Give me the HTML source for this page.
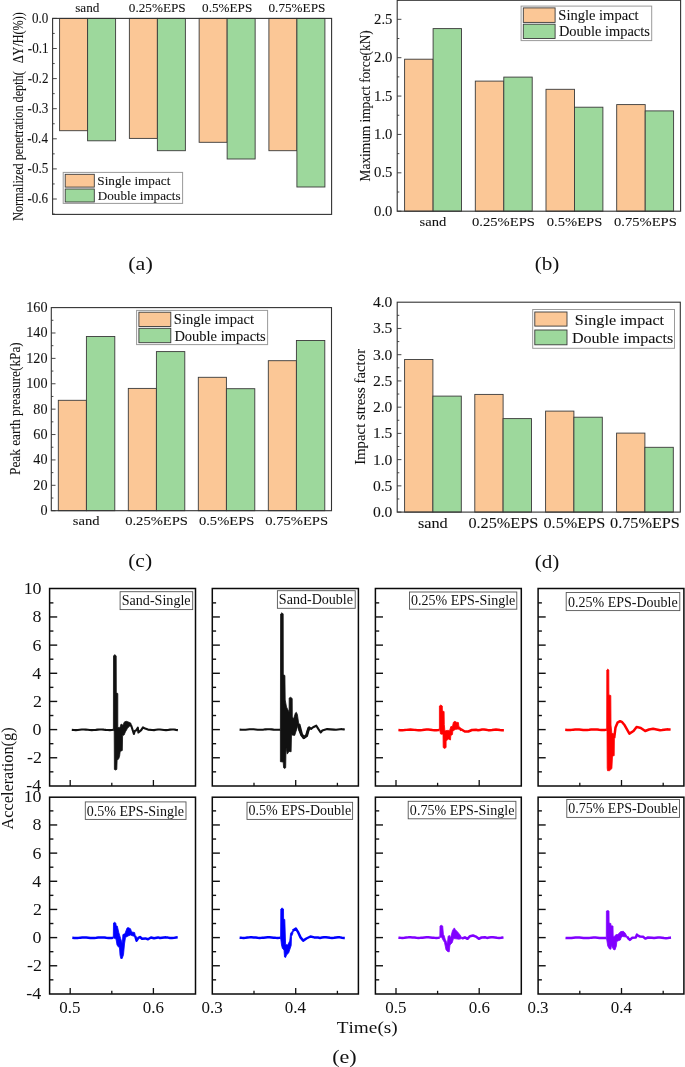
<!DOCTYPE html><html><head><meta charset="utf-8"><style>html,body{margin:0;padding:0;background:#fff;}svg{display:block;will-change:transform;}text{font-family:"Liberation Serif", serif;fill:#111;font-kerning:none;}text.s{stroke:#111;stroke-width:0.08px;}</style></head><body>
<svg width="685" height="1067" viewBox="0 0 685 1067">
<rect width="685" height="1067" fill="#fff"/>
<rect x="59.6" y="18.4" width="28" height="112.3" fill="#FBC796" stroke="#3a3a3a" stroke-width="0.9"/>
<rect x="87.6" y="18.4" width="28" height="122.4" fill="#9DD89C" stroke="#3a3a3a" stroke-width="0.9"/>
<rect x="129.37" y="18.4" width="28" height="120" fill="#FBC796" stroke="#3a3a3a" stroke-width="0.9"/>
<rect x="157.37" y="18.4" width="28" height="132.3" fill="#9DD89C" stroke="#3a3a3a" stroke-width="0.9"/>
<rect x="199.14" y="18.4" width="28" height="123.9" fill="#FBC796" stroke="#3a3a3a" stroke-width="0.9"/>
<rect x="227.14" y="18.4" width="28" height="140.6" fill="#9DD89C" stroke="#3a3a3a" stroke-width="0.9"/>
<rect x="268.91" y="18.4" width="28" height="132.3" fill="#FBC796" stroke="#3a3a3a" stroke-width="0.9"/>
<rect x="296.91" y="18.4" width="28" height="168.6" fill="#9DD89C" stroke="#3a3a3a" stroke-width="0.9"/>
<rect x="52.6" y="18.4" width="279" height="196" fill="none" stroke="#333" stroke-width="1.1"/>
<line x1="52.6" y1="18.4" x2="56.8" y2="18.4" stroke="#333" stroke-width="0.9"/>
<line x1="52.6" y1="33.45" x2="54.7" y2="33.45" stroke="#333" stroke-width="0.9"/>
<line x1="52.6" y1="48.5" x2="56.8" y2="48.5" stroke="#333" stroke-width="0.9"/>
<line x1="52.6" y1="63.55" x2="54.7" y2="63.55" stroke="#333" stroke-width="0.9"/>
<line x1="52.6" y1="78.6" x2="56.8" y2="78.6" stroke="#333" stroke-width="0.9"/>
<line x1="52.6" y1="93.65" x2="54.7" y2="93.65" stroke="#333" stroke-width="0.9"/>
<line x1="52.6" y1="108.7" x2="56.8" y2="108.7" stroke="#333" stroke-width="0.9"/>
<line x1="52.6" y1="123.75" x2="54.7" y2="123.75" stroke="#333" stroke-width="0.9"/>
<line x1="52.6" y1="138.8" x2="56.8" y2="138.8" stroke="#333" stroke-width="0.9"/>
<line x1="52.6" y1="153.85" x2="54.7" y2="153.85" stroke="#333" stroke-width="0.9"/>
<line x1="52.6" y1="168.9" x2="56.8" y2="168.9" stroke="#333" stroke-width="0.9"/>
<line x1="52.6" y1="183.95" x2="54.7" y2="183.95" stroke="#333" stroke-width="0.9"/>
<line x1="52.6" y1="199" x2="56.8" y2="199" stroke="#333" stroke-width="0.9"/>
<line x1="52.6" y1="214.05" x2="54.7" y2="214.05" stroke="#333" stroke-width="0.9"/>
<text transform="translate(31.88,22.5) scale(0.9600,1)" font-size="13.6" class="s">0.0</text>
<text transform="translate(27.82,52.6) scale(0.9600,1)" font-size="13.6" class="s">-0.1</text>
<text transform="translate(27.75,82.7) scale(0.9600,1)" font-size="13.6" class="s">-0.2</text>
<text transform="translate(27.54,112.8) scale(0.9600,1)" font-size="13.6" class="s">-0.3</text>
<text transform="translate(27.24,142.9) scale(0.9600,1)" font-size="13.6" class="s">-0.4</text>
<text transform="translate(27.54,173) scale(0.9600,1)" font-size="13.6" class="s">-0.5</text>
<text transform="translate(27.42,203.1) scale(0.9600,1)" font-size="13.6" class="s">-0.6</text>
<text transform="translate(75.21,12.2) scale(1.1000,1)" font-size="12" class="s">sand</text>
<text transform="translate(128.84,12.2) scale(1.1000,1)" font-size="12" class="s">0.25%EPS</text>
<text transform="translate(202.04,12.2) scale(1.1000,1)" font-size="12" class="s">0.5%EPS</text>
<text transform="translate(268.49,12.2) scale(1.1000,1)" font-size="12" class="s">0.75%EPS</text>
<rect x="63.2" y="172.4" width="119.4" height="31" fill="#fff" stroke="#9a9a9a" stroke-width="1"/>
<rect x="65.2" y="174.3" width="29.1" height="12.8" fill="#FBC796" stroke="#3a3a3a" stroke-width="0.9"/>
<rect x="65.2" y="189" width="29.1" height="13" fill="#9DD89C" stroke="#3a3a3a" stroke-width="0.9"/>
<text transform="translate(97.31,185) scale(1.0506,1)" font-size="12.6" class="s">Single impact</text>
<text transform="translate(97.82,199.9) scale(1.0431,1)" font-size="12.6" class="s">Double impacts</text>
<text transform="translate(23.2,220.85) rotate(-90) scale(0.8778,1)" font-size="13.9" class="s">Normalized penetration depth(</text>
<text transform="translate(23.2,63.26) rotate(-90) scale(0.8776,1)" font-size="13.9" class="s">ΔY/H(%))</text>
<text transform="translate(128.23,270) scale(1.1954,1)" font-size="18.5">(a)</text>
<rect x="404.6" y="59.2" width="28.5" height="152" fill="#FBC796" stroke="#3a3a3a" stroke-width="0.9"/>
<rect x="433.1" y="28.6" width="28.4" height="182.6" fill="#9DD89C" stroke="#3a3a3a" stroke-width="0.9"/>
<rect x="475.3" y="81.1" width="28.5" height="130.1" fill="#FBC796" stroke="#3a3a3a" stroke-width="0.9"/>
<rect x="503.8" y="77.1" width="28.4" height="134.1" fill="#9DD89C" stroke="#3a3a3a" stroke-width="0.9"/>
<rect x="546" y="89.3" width="28.5" height="121.9" fill="#FBC796" stroke="#3a3a3a" stroke-width="0.9"/>
<rect x="574.5" y="107.2" width="28.4" height="104" fill="#9DD89C" stroke="#3a3a3a" stroke-width="0.9"/>
<rect x="616.7" y="104.6" width="28.5" height="106.6" fill="#FBC796" stroke="#3a3a3a" stroke-width="0.9"/>
<rect x="645.2" y="110.9" width="28.4" height="100.3" fill="#9DD89C" stroke="#3a3a3a" stroke-width="0.9"/>
<rect x="397.2" y="0.3" width="283.4" height="210.9" fill="none" stroke="#333" stroke-width="1.1"/>
<line x1="397.2" y1="211.2" x2="401.4" y2="211.2" stroke="#333" stroke-width="0.9"/>
<line x1="397.2" y1="192.01" x2="399.3" y2="192.01" stroke="#333" stroke-width="0.9"/>
<line x1="397.2" y1="172.82" x2="401.4" y2="172.82" stroke="#333" stroke-width="0.9"/>
<line x1="397.2" y1="153.64" x2="399.3" y2="153.64" stroke="#333" stroke-width="0.9"/>
<line x1="397.2" y1="134.45" x2="401.4" y2="134.45" stroke="#333" stroke-width="0.9"/>
<line x1="397.2" y1="115.26" x2="399.3" y2="115.26" stroke="#333" stroke-width="0.9"/>
<line x1="397.2" y1="96.07" x2="401.4" y2="96.07" stroke="#333" stroke-width="0.9"/>
<line x1="397.2" y1="76.89" x2="399.3" y2="76.89" stroke="#333" stroke-width="0.9"/>
<line x1="397.2" y1="57.7" x2="401.4" y2="57.7" stroke="#333" stroke-width="0.9"/>
<line x1="397.2" y1="38.51" x2="399.3" y2="38.51" stroke="#333" stroke-width="0.9"/>
<line x1="397.2" y1="19.32" x2="401.4" y2="19.32" stroke="#333" stroke-width="0.9"/>
<line x1="397.2" y1="0.14" x2="399.3" y2="0.14" stroke="#333" stroke-width="0.9"/>
<text transform="translate(374.08,215.7) scale(1.0500,1)" font-size="14" class="s">0.0</text>
<text transform="translate(374.1,177.32) scale(1.0500,1)" font-size="14" class="s">0.5</text>
<text transform="translate(374.08,138.95) scale(1.0500,1)" font-size="14" class="s">1.0</text>
<text transform="translate(374.1,100.57) scale(1.0500,1)" font-size="14" class="s">1.5</text>
<text transform="translate(374.08,62.2) scale(1.0500,1)" font-size="14" class="s">2.0</text>
<text transform="translate(374.1,23.82) scale(1.0500,1)" font-size="14" class="s">2.5</text>
<text transform="translate(419.53,226.2) scale(1.0800,1)" font-size="13.5" class="s">sand</text>
<text transform="translate(472.08,226.2) scale(1.0800,1)" font-size="13.5" class="s">0.25%EPS</text>
<text transform="translate(546.83,226.2) scale(1.0800,1)" font-size="13.5" class="s">0.5%EPS</text>
<text transform="translate(613.98,226.2) scale(1.0800,1)" font-size="13.5" class="s">0.75%EPS</text>
<rect x="521.1" y="6.1" width="130.6" height="34.5" fill="#fff" stroke="#9a9a9a" stroke-width="1"/>
<rect x="523.3" y="7.9" width="31.8" height="14.5" fill="#FBC796" stroke="#3a3a3a" stroke-width="0.9"/>
<rect x="523.3" y="24.2" width="31.8" height="14.3" fill="#9DD89C" stroke="#3a3a3a" stroke-width="0.9"/>
<text transform="translate(558.33,19.9) scale(0.9824,1)" font-size="14.8" class="s">Single impact</text>
<text transform="translate(558.88,35.5) scale(0.9757,1)" font-size="14.8" class="s">Double impacts</text>
<text transform="translate(369.7,181.38) rotate(-90) scale(0.9811,1)" font-size="13.6" class="s">Maximum impact force(kN)</text>
<text transform="translate(534.67,270.4) scale(1.1431,1)" font-size="18.5">(b)</text>
<rect x="58.3" y="400.3" width="28.1" height="110.4" fill="#FBC796" stroke="#3a3a3a" stroke-width="0.9"/>
<rect x="86.4" y="336.5" width="28.4" height="174.2" fill="#9DD89C" stroke="#3a3a3a" stroke-width="0.9"/>
<rect x="128.3" y="388.4" width="28.1" height="122.3" fill="#FBC796" stroke="#3a3a3a" stroke-width="0.9"/>
<rect x="156.4" y="351.6" width="28.4" height="159.1" fill="#9DD89C" stroke="#3a3a3a" stroke-width="0.9"/>
<rect x="198.3" y="377.3" width="28.1" height="133.4" fill="#FBC796" stroke="#3a3a3a" stroke-width="0.9"/>
<rect x="226.4" y="388.7" width="28.4" height="122" fill="#9DD89C" stroke="#3a3a3a" stroke-width="0.9"/>
<rect x="268.3" y="360.7" width="28.1" height="150" fill="#FBC796" stroke="#3a3a3a" stroke-width="0.9"/>
<rect x="296.4" y="340.5" width="28.4" height="170.2" fill="#9DD89C" stroke="#3a3a3a" stroke-width="0.9"/>
<rect x="51.3" y="307.6" width="280.2" height="203.1" fill="none" stroke="#333" stroke-width="1.1"/>
<line x1="51.3" y1="510.7" x2="55.5" y2="510.7" stroke="#333" stroke-width="0.9"/>
<line x1="51.3" y1="498.01" x2="53.4" y2="498.01" stroke="#333" stroke-width="0.9"/>
<line x1="51.3" y1="485.31" x2="55.5" y2="485.31" stroke="#333" stroke-width="0.9"/>
<line x1="51.3" y1="472.62" x2="53.4" y2="472.62" stroke="#333" stroke-width="0.9"/>
<line x1="51.3" y1="459.93" x2="55.5" y2="459.93" stroke="#333" stroke-width="0.9"/>
<line x1="51.3" y1="447.23" x2="53.4" y2="447.23" stroke="#333" stroke-width="0.9"/>
<line x1="51.3" y1="434.54" x2="55.5" y2="434.54" stroke="#333" stroke-width="0.9"/>
<line x1="51.3" y1="421.84" x2="53.4" y2="421.84" stroke="#333" stroke-width="0.9"/>
<line x1="51.3" y1="409.15" x2="55.5" y2="409.15" stroke="#333" stroke-width="0.9"/>
<line x1="51.3" y1="396.46" x2="53.4" y2="396.46" stroke="#333" stroke-width="0.9"/>
<line x1="51.3" y1="383.76" x2="55.5" y2="383.76" stroke="#333" stroke-width="0.9"/>
<line x1="51.3" y1="371.07" x2="53.4" y2="371.07" stroke="#333" stroke-width="0.9"/>
<line x1="51.3" y1="358.38" x2="55.5" y2="358.38" stroke="#333" stroke-width="0.9"/>
<line x1="51.3" y1="345.68" x2="53.4" y2="345.68" stroke="#333" stroke-width="0.9"/>
<line x1="51.3" y1="332.99" x2="55.5" y2="332.99" stroke="#333" stroke-width="0.9"/>
<line x1="51.3" y1="320.29" x2="53.4" y2="320.29" stroke="#333" stroke-width="0.9"/>
<text x="40.44" y="515.1" font-size="14.2" class="s">0</text>
<text x="33.34" y="489.71" font-size="14.2" class="s">20</text>
<text x="33.34" y="464.32" font-size="14.2" class="s">40</text>
<text x="33.34" y="438.94" font-size="14.2" class="s">60</text>
<text x="33.34" y="413.55" font-size="14.2" class="s">80</text>
<text x="26.24" y="388.16" font-size="14.2" class="s">100</text>
<text x="26.24" y="362.77" font-size="14.2" class="s">120</text>
<text x="26.24" y="337.39" font-size="14.2" class="s">140</text>
<text x="26.24" y="312" font-size="14.2" class="s">160</text>
<text transform="translate(72.83,525.3) scale(1.0800,1)" font-size="13.5" class="s">sand</text>
<text transform="translate(125.18,525.3) scale(1.0800,1)" font-size="13.5" class="s">0.25%EPS</text>
<text transform="translate(198.93,525.3) scale(1.0800,1)" font-size="13.5" class="s">0.5%EPS</text>
<text transform="translate(265.28,525.3) scale(1.0800,1)" font-size="13.5" class="s">0.75%EPS</text>
<rect x="136.6" y="310.4" width="131" height="34.2" fill="#fff" stroke="#9a9a9a" stroke-width="1"/>
<rect x="138.9" y="312.2" width="31.9" height="14.3" fill="#FBC796" stroke="#3a3a3a" stroke-width="0.9"/>
<rect x="138.9" y="328.3" width="31.9" height="14.4" fill="#9DD89C" stroke="#3a3a3a" stroke-width="0.9"/>
<text transform="translate(173.83,324.2) scale(0.9799,1)" font-size="14.8" class="s">Single impact</text>
<text transform="translate(174.38,340.5) scale(0.9801,1)" font-size="14.8" class="s">Double impacts</text>
<text transform="translate(20.2,474.98) rotate(-90) scale(0.9774,1)" font-size="13.6" class="s">Peak earth preasure(kPa)</text>
<text transform="translate(128.15,567) scale(1.1689,1)" font-size="18.5">(c)</text>
<rect x="404.6" y="359.5" width="28.3" height="152.6" fill="#FBC796" stroke="#3a3a3a" stroke-width="0.9"/>
<rect x="432.9" y="396.1" width="28.4" height="116" fill="#9DD89C" stroke="#3a3a3a" stroke-width="0.9"/>
<rect x="474.8" y="394.4" width="28.3" height="117.7" fill="#FBC796" stroke="#3a3a3a" stroke-width="0.9"/>
<rect x="503.1" y="418.6" width="28.4" height="93.5" fill="#9DD89C" stroke="#3a3a3a" stroke-width="0.9"/>
<rect x="545.6" y="411.1" width="28.3" height="101" fill="#FBC796" stroke="#3a3a3a" stroke-width="0.9"/>
<rect x="573.9" y="417.2" width="28.4" height="94.9" fill="#9DD89C" stroke="#3a3a3a" stroke-width="0.9"/>
<rect x="616.6" y="433.1" width="28.3" height="79" fill="#FBC796" stroke="#3a3a3a" stroke-width="0.9"/>
<rect x="644.9" y="447.3" width="28.4" height="64.8" fill="#9DD89C" stroke="#3a3a3a" stroke-width="0.9"/>
<rect x="397.2" y="302.2" width="283.1" height="209.9" fill="none" stroke="#333" stroke-width="1.1"/>
<line x1="397.2" y1="512.1" x2="401.4" y2="512.1" stroke="#333" stroke-width="0.9"/>
<line x1="397.2" y1="498.98" x2="399.3" y2="498.98" stroke="#333" stroke-width="0.9"/>
<line x1="397.2" y1="485.87" x2="401.4" y2="485.87" stroke="#333" stroke-width="0.9"/>
<line x1="397.2" y1="472.75" x2="399.3" y2="472.75" stroke="#333" stroke-width="0.9"/>
<line x1="397.2" y1="459.63" x2="401.4" y2="459.63" stroke="#333" stroke-width="0.9"/>
<line x1="397.2" y1="446.51" x2="399.3" y2="446.51" stroke="#333" stroke-width="0.9"/>
<line x1="397.2" y1="433.4" x2="401.4" y2="433.4" stroke="#333" stroke-width="0.9"/>
<line x1="397.2" y1="420.28" x2="399.3" y2="420.28" stroke="#333" stroke-width="0.9"/>
<line x1="397.2" y1="407.16" x2="401.4" y2="407.16" stroke="#333" stroke-width="0.9"/>
<line x1="397.2" y1="394.04" x2="399.3" y2="394.04" stroke="#333" stroke-width="0.9"/>
<line x1="397.2" y1="380.93" x2="401.4" y2="380.93" stroke="#333" stroke-width="0.9"/>
<line x1="397.2" y1="367.81" x2="399.3" y2="367.81" stroke="#333" stroke-width="0.9"/>
<line x1="397.2" y1="354.69" x2="401.4" y2="354.69" stroke="#333" stroke-width="0.9"/>
<line x1="397.2" y1="341.57" x2="399.3" y2="341.57" stroke="#333" stroke-width="0.9"/>
<line x1="397.2" y1="328.46" x2="401.4" y2="328.46" stroke="#333" stroke-width="0.9"/>
<line x1="397.2" y1="315.34" x2="399.3" y2="315.34" stroke="#333" stroke-width="0.9"/>
<text transform="translate(372.9,517) scale(1.1300,1)" font-size="13.8" class="s">0.0</text>
<text transform="translate(372.92,490.76) scale(1.1300,1)" font-size="13.8" class="s">0.5</text>
<text transform="translate(372.9,464.53) scale(1.1300,1)" font-size="13.8" class="s">1.0</text>
<text transform="translate(372.92,438.3) scale(1.1300,1)" font-size="13.8" class="s">1.5</text>
<text transform="translate(372.9,412.06) scale(1.1300,1)" font-size="13.8" class="s">2.0</text>
<text transform="translate(372.92,385.82) scale(1.1300,1)" font-size="13.8" class="s">2.5</text>
<text transform="translate(372.9,359.59) scale(1.1300,1)" font-size="13.8" class="s">3.0</text>
<text transform="translate(372.92,333.36) scale(1.1300,1)" font-size="13.8" class="s">3.5</text>
<text transform="translate(372.9,307.12) scale(1.1300,1)" font-size="13.8" class="s">4.0</text>
<text transform="translate(417.88,527.8) scale(1.1200,1)" font-size="14.5" class="s">sand</text>
<text transform="translate(468.43,527.8) scale(1.1200,1)" font-size="14.5" class="s">0.25%EPS</text>
<text transform="translate(543.49,527.8) scale(1.1200,1)" font-size="14.5" class="s">0.5%EPS</text>
<text transform="translate(610.03,527.8) scale(1.1200,1)" font-size="14.5" class="s">0.75%EPS</text>
<rect x="532.7" y="309.5" width="141.8" height="38.8" fill="#fff" stroke="#9a9a9a" stroke-width="1"/>
<rect x="534.8" y="312" width="32.2" height="14.1" fill="#FBC796" stroke="#3a3a3a" stroke-width="0.9"/>
<rect x="534.8" y="330" width="32.2" height="14.8" fill="#9DD89C" stroke="#3a3a3a" stroke-width="0.9"/>
<text transform="translate(574.82,324.7) scale(1.0914,1)" font-size="14.8" class="s">Single impact</text>
<text transform="translate(571.94,342.9) scale(1.0851,1)" font-size="14.8" class="s">Double impacts</text>
<text transform="translate(365.2,464.84) rotate(-90) scale(1.0007,1)" font-size="14.8" class="s">Impact stress factor</text>
<text transform="translate(534.67,567.6) scale(1.1431,1)" font-size="18.5">(d)</text>
<polygon points="113.4,730.5 113.5,656 114.8,654.6 116.2,656 116.3,692.7 117.8,693.5 117.8,727.4 119.9,727.7 121.1,724 122.9,725.2 124.4,721.9 126.3,721.3 129,722.2 130.8,723.1 131.7,726.1 129.6,726.1 127.5,728.3 125.4,731.9 124.1,735 122.6,735.6 122.3,750.5 120.2,751.4 119.6,756.3 118.7,758.7 117.1,760.5 116.8,769.4 115.6,770 114.4,769.4 114.2,731" fill="#111" stroke="#111" stroke-width="0.8" stroke-linejoin="round"/>
<polyline points="71.8,729.89 73.8,730.06 75.8,730.09 77.8,729.98 79.8,729.77 81.8,729.57 83.8,729.5 85.8,729.58 87.8,729.78 89.8,729.99 91.8,730.1 93.8,730.05 95.8,729.88 97.8,729.66 99.8,729.52 101.8,729.52 103.8,729.67 105.8,729.89 107.8,730.06 109.8,730.09 111.8,729.98 113.4,729.81" fill="none" stroke="#111" stroke-width="2.1" stroke-linejoin="round" stroke-linecap="butt"/>
<polyline points="131.2,725.5 133.9,734 134.8,731 136,730.5 137.8,727.7 138.4,732.5 141.2,730.1 143,727.4 145.1,728.6 148,729.6 152,730 154,730.09 156,729.8 158,729.51 160,729.47 162,729.71 164,730.03 166,730.15 168,729.97 170,729.64 172,729.45 174,729.57 176,729.88 177.9,730.12" fill="none" stroke="#111" stroke-width="2.1" stroke-linejoin="round" stroke-linecap="butt"/>
<rect x="120.1" y="591.7" width="72.6" height="17.9" fill="#fff" stroke="#555" stroke-width="0.9"/>
<text transform="translate(121.66,605.1) scale(1.0087,1)" font-size="14">Sand-Single</text>
<rect x="49.6" y="588.5" width="145.9" height="197.5" fill="none" stroke="#0a0a0a" stroke-width="1.5"/>
<line x1="49.6" y1="771.84" x2="53.4" y2="771.84" stroke="#111" stroke-width="1.4"/>
<line x1="49.6" y1="757.76" x2="57.2" y2="757.76" stroke="#111" stroke-width="1.4"/>
<line x1="49.6" y1="743.68" x2="53.4" y2="743.68" stroke="#111" stroke-width="1.4"/>
<line x1="49.6" y1="729.6" x2="57.2" y2="729.6" stroke="#111" stroke-width="1.4"/>
<line x1="49.6" y1="715.52" x2="53.4" y2="715.52" stroke="#111" stroke-width="1.4"/>
<line x1="49.6" y1="701.44" x2="57.2" y2="701.44" stroke="#111" stroke-width="1.4"/>
<line x1="49.6" y1="687.36" x2="53.4" y2="687.36" stroke="#111" stroke-width="1.4"/>
<line x1="49.6" y1="673.28" x2="57.2" y2="673.28" stroke="#111" stroke-width="1.4"/>
<line x1="49.6" y1="659.2" x2="53.4" y2="659.2" stroke="#111" stroke-width="1.4"/>
<line x1="49.6" y1="645.12" x2="57.2" y2="645.12" stroke="#111" stroke-width="1.4"/>
<line x1="49.6" y1="631.04" x2="53.4" y2="631.04" stroke="#111" stroke-width="1.4"/>
<line x1="49.6" y1="616.96" x2="57.2" y2="616.96" stroke="#111" stroke-width="1.4"/>
<line x1="49.6" y1="602.88" x2="53.4" y2="602.88" stroke="#111" stroke-width="1.4"/>
<line x1="70.2" y1="786" x2="70.2" y2="780" stroke="#111" stroke-width="1.3"/>
<line x1="111.8" y1="786" x2="111.8" y2="782.8" stroke="#111" stroke-width="1.3"/>
<line x1="153.4" y1="786" x2="153.4" y2="780" stroke="#111" stroke-width="1.3"/>
<text transform="translate(26.25,791.32) scale(1.1200,1)" font-size="16">-4</text>
<text transform="translate(26.96,763.16) scale(1.1200,1)" font-size="16">-2</text>
<text transform="translate(32.62,735) scale(1.1200,1)" font-size="16">0</text>
<text transform="translate(32.93,706.84) scale(1.1200,1)" font-size="16">2</text>
<text transform="translate(32.22,678.68) scale(1.1200,1)" font-size="16">4</text>
<text transform="translate(32.47,650.52) scale(1.1200,1)" font-size="16">6</text>
<text transform="translate(32.62,622.36) scale(1.1200,1)" font-size="16">8</text>
<text transform="translate(23.66,594.2) scale(1.1200,1)" font-size="16">10</text>
<polygon points="280.4,729.4 280.6,614 282,612.7 283.2,614 283.3,674.6 284.9,675.5 285.2,700 286.5,707 288,710 289.1,712 289.2,698 290.6,697.3 292.2,698.5 292.3,717 293.5,719 295.4,713 296.3,712.3 297.4,714.5 298.7,723.5 297.5,727 296,731.4 294.7,735.4 292,735 291.5,734.6 291.1,751.8 289.1,751.4 287.2,754.1 286,747.4 285.7,767.7 284.6,768.5 283.6,767.7 283.2,762 280.4,761.7" fill="#111" stroke="#111" stroke-width="0.8" stroke-linejoin="round"/>
<polyline points="239.6,729.59 241.6,729.76 243.6,729.79 245.6,729.68 247.6,729.47 249.6,729.27 251.6,729.2 253.6,729.28 255.6,729.48 257.6,729.69 259.6,729.8 261.6,729.75 263.6,729.58 265.6,729.36 267.6,729.22 269.6,729.22 271.6,729.37 273.6,729.59 275.6,729.76 277.6,729.79 279.6,729.68 280.4,729.6" fill="none" stroke="#111" stroke-width="2.1" stroke-linejoin="round" stroke-linecap="butt"/>
<polyline points="298.7,723.5 299.2,730 301.5,734.5 303.8,737.8 306.6,735.7 307.9,730.9 309.1,727.3 311.1,728.9 313.1,727.3 316.3,725.7 318.3,728.9 320.7,732.5 322.3,730.5 327.1,729.1 334,729.6 336,729.79 338,729.5 340,729.21 342,729.17 344,729.41 344.8,729.55" fill="none" stroke="#111" stroke-width="2.1" stroke-linejoin="round" stroke-linecap="butt"/>
<polyline points="298.9,724.5 301.5,734.5 303.8,737.6 306.6,735.5 307.9,730.9 309.1,727.6" fill="none" stroke="#111" stroke-width="3" stroke-linejoin="round" stroke-linecap="butt"/>
<rect x="277.4" y="590.7" width="77.8" height="17.6" fill="#fff" stroke="#555" stroke-width="0.9"/>
<text transform="translate(278.86,604.2) scale(1.0048,1)" font-size="14">Sand-Double</text>
<rect x="212.3" y="588.5" width="146.1" height="197.5" fill="none" stroke="#0a0a0a" stroke-width="1.5"/>
<line x1="212.3" y1="771.84" x2="216.1" y2="771.84" stroke="#111" stroke-width="1.4"/>
<line x1="212.3" y1="757.76" x2="219.9" y2="757.76" stroke="#111" stroke-width="1.4"/>
<line x1="212.3" y1="743.68" x2="216.1" y2="743.68" stroke="#111" stroke-width="1.4"/>
<line x1="212.3" y1="729.6" x2="219.9" y2="729.6" stroke="#111" stroke-width="1.4"/>
<line x1="212.3" y1="715.52" x2="216.1" y2="715.52" stroke="#111" stroke-width="1.4"/>
<line x1="212.3" y1="701.44" x2="219.9" y2="701.44" stroke="#111" stroke-width="1.4"/>
<line x1="212.3" y1="687.36" x2="216.1" y2="687.36" stroke="#111" stroke-width="1.4"/>
<line x1="212.3" y1="673.28" x2="219.9" y2="673.28" stroke="#111" stroke-width="1.4"/>
<line x1="212.3" y1="659.2" x2="216.1" y2="659.2" stroke="#111" stroke-width="1.4"/>
<line x1="212.3" y1="645.12" x2="219.9" y2="645.12" stroke="#111" stroke-width="1.4"/>
<line x1="212.3" y1="631.04" x2="216.1" y2="631.04" stroke="#111" stroke-width="1.4"/>
<line x1="212.3" y1="616.96" x2="219.9" y2="616.96" stroke="#111" stroke-width="1.4"/>
<line x1="212.3" y1="602.88" x2="216.1" y2="602.88" stroke="#111" stroke-width="1.4"/>
<line x1="254" y1="786" x2="254" y2="782.8" stroke="#111" stroke-width="1.3"/>
<line x1="295.7" y1="786" x2="295.7" y2="780" stroke="#111" stroke-width="1.3"/>
<line x1="337.4" y1="786" x2="337.4" y2="782.8" stroke="#111" stroke-width="1.3"/>
<polygon points="439.4,729 439.4,706 440.8,705 442.3,706 442.4,711 444.1,711.5 444.3,724.5 444.9,731 447,730.4 449.6,730.4 450.8,726.6 452.5,726.3 453.4,722.2 454.9,721.3 456.3,722.2 458.4,722.5 458.9,726.6 460.7,728 462,729 461,731 459.5,729.8 458.1,729 455.4,729.4 452.8,731 452.5,734.5 450.8,735.6 450.5,740 448.4,739.1 446.1,740.9 446.1,747.5 444.5,748.5 443.2,747.5 443,734 441.5,734.3 440.5,733.9 440,731" fill="#ff0000" stroke="#ff0000" stroke-width="0.8" stroke-linejoin="round"/>
<polyline points="398.4,729.99 400.4,730.16 402.4,730.19 404.4,730.08 406.4,729.87 408.4,729.67 410.4,729.6 412.4,729.68 414.4,729.88 416.4,730.09 418.4,730.2 420.4,730.15 422.4,729.98 424.4,729.76 426.4,729.62 428.4,729.62 430.4,729.77 432.4,729.99 434.4,730.16 436.4,730.19 438.4,730.08 439.4,729.98" fill="none" stroke="#ff0000" stroke-width="2.5" stroke-linejoin="round" stroke-linecap="butt"/>
<polyline points="461.5,729.5 464.8,731.5 468.3,731.5 472,730 476,729.8 478,730.19 480,729.9 482,729.61 484,729.57 486,729.81 488,730.13 490,730.25 492,730.07 494,729.74 496,729.55 498,729.67 500,729.98 502,730.23 503.9,730.2" fill="none" stroke="#ff0000" stroke-width="2.5" stroke-linejoin="round" stroke-linecap="butt"/>
<rect x="409.5" y="592" width="107.3" height="17.2" fill="#fff" stroke="#555" stroke-width="0.9"/>
<text transform="translate(410.97,605.3) scale(1.0028,1)" font-size="14">0.25% EPS-Single</text>
<rect x="375.4" y="588.5" width="145.9" height="197.5" fill="none" stroke="#0a0a0a" stroke-width="1.5"/>
<line x1="375.4" y1="771.84" x2="379.2" y2="771.84" stroke="#111" stroke-width="1.4"/>
<line x1="375.4" y1="757.76" x2="383" y2="757.76" stroke="#111" stroke-width="1.4"/>
<line x1="375.4" y1="743.68" x2="379.2" y2="743.68" stroke="#111" stroke-width="1.4"/>
<line x1="375.4" y1="729.6" x2="383" y2="729.6" stroke="#111" stroke-width="1.4"/>
<line x1="375.4" y1="715.52" x2="379.2" y2="715.52" stroke="#111" stroke-width="1.4"/>
<line x1="375.4" y1="701.44" x2="383" y2="701.44" stroke="#111" stroke-width="1.4"/>
<line x1="375.4" y1="687.36" x2="379.2" y2="687.36" stroke="#111" stroke-width="1.4"/>
<line x1="375.4" y1="673.28" x2="383" y2="673.28" stroke="#111" stroke-width="1.4"/>
<line x1="375.4" y1="659.2" x2="379.2" y2="659.2" stroke="#111" stroke-width="1.4"/>
<line x1="375.4" y1="645.12" x2="383" y2="645.12" stroke="#111" stroke-width="1.4"/>
<line x1="375.4" y1="631.04" x2="379.2" y2="631.04" stroke="#111" stroke-width="1.4"/>
<line x1="375.4" y1="616.96" x2="383" y2="616.96" stroke="#111" stroke-width="1.4"/>
<line x1="375.4" y1="602.88" x2="379.2" y2="602.88" stroke="#111" stroke-width="1.4"/>
<line x1="396" y1="786" x2="396" y2="780" stroke="#111" stroke-width="1.3"/>
<line x1="437.6" y1="786" x2="437.6" y2="782.8" stroke="#111" stroke-width="1.3"/>
<line x1="479.2" y1="786" x2="479.2" y2="780" stroke="#111" stroke-width="1.3"/>
<polygon points="606.7,729.7 606.8,670 607.8,669.1 608.8,670 608.9,694.9 610.8,695.5 611,725 611.9,733.6 613.4,733.6 614.4,738.2 614.2,755.7 612.5,756 611.9,768.6 609.5,770.7 607.5,770.7 607.2,768 607,731" fill="#ff0000" stroke="#ff0000" stroke-width="0.8" stroke-linejoin="round"/>
<polyline points="565.2,729.79 567.2,729.96 569.2,729.99 571.2,729.88 573.2,729.67 575.2,729.47 577.2,729.4 579.2,729.48 581.2,729.68 583.2,729.89 585.2,730 587.2,729.95 589.2,729.78 591.2,729.56 593.2,729.42 595.2,729.42 597.2,729.57 599.2,729.79 601.2,729.96 603.2,729.99 605.2,729.88 606.7,729.72" fill="none" stroke="#ff0000" stroke-width="2.5" stroke-linejoin="round" stroke-linecap="butt"/>
<polyline points="614.2,738.2 615.5,727.4 617.5,722.7 620.1,721.2 622.2,722.2 624.7,725.3 629.4,733.6 633.5,731 636.6,726.9 640.8,728 645.2,731 649,729.5 653.1,728.8 660.1,730.2 662.1,729.99 664.1,729.7 666.1,729.41 668.1,729.37 670.1,729.61 670.6,729.7" fill="none" stroke="#ff0000" stroke-width="2.5" stroke-linejoin="round" stroke-linecap="butt"/>
<rect x="566.2" y="592.5" width="113.6" height="18.1" fill="#fff" stroke="#555" stroke-width="0.9"/>
<text x="567.97" y="606.5" font-size="14">0.25% EPS-Double</text>
<rect x="538.1" y="588.5" width="145.8" height="197.5" fill="none" stroke="#0a0a0a" stroke-width="1.5"/>
<line x1="538.1" y1="771.84" x2="541.9" y2="771.84" stroke="#111" stroke-width="1.4"/>
<line x1="538.1" y1="757.76" x2="545.7" y2="757.76" stroke="#111" stroke-width="1.4"/>
<line x1="538.1" y1="743.68" x2="541.9" y2="743.68" stroke="#111" stroke-width="1.4"/>
<line x1="538.1" y1="729.6" x2="545.7" y2="729.6" stroke="#111" stroke-width="1.4"/>
<line x1="538.1" y1="715.52" x2="541.9" y2="715.52" stroke="#111" stroke-width="1.4"/>
<line x1="538.1" y1="701.44" x2="545.7" y2="701.44" stroke="#111" stroke-width="1.4"/>
<line x1="538.1" y1="687.36" x2="541.9" y2="687.36" stroke="#111" stroke-width="1.4"/>
<line x1="538.1" y1="673.28" x2="545.7" y2="673.28" stroke="#111" stroke-width="1.4"/>
<line x1="538.1" y1="659.2" x2="541.9" y2="659.2" stroke="#111" stroke-width="1.4"/>
<line x1="538.1" y1="645.12" x2="545.7" y2="645.12" stroke="#111" stroke-width="1.4"/>
<line x1="538.1" y1="631.04" x2="541.9" y2="631.04" stroke="#111" stroke-width="1.4"/>
<line x1="538.1" y1="616.96" x2="545.7" y2="616.96" stroke="#111" stroke-width="1.4"/>
<line x1="538.1" y1="602.88" x2="541.9" y2="602.88" stroke="#111" stroke-width="1.4"/>
<line x1="579.8" y1="786" x2="579.8" y2="782.8" stroke="#111" stroke-width="1.3"/>
<line x1="621.5" y1="786" x2="621.5" y2="780" stroke="#111" stroke-width="1.3"/>
<line x1="663.2" y1="786" x2="663.2" y2="782.8" stroke="#111" stroke-width="1.3"/>
<polygon points="113.3,937.8 113.5,923 114.6,922.3 115.9,923.2 116.2,926 117.3,926.1 118.8,932.5 120.6,938.4 122.3,943.6 122.9,934.6 124.9,933.7 127,928.1 128.1,927.6 130.5,928.7 131.6,931.9 134.6,932.5 135.5,936.5 133,936 130.5,935 128,936 125.5,937.5 124.5,944 123.5,954.7 122.2,958.5 120.8,958.5 120,955 119.5,948 118.5,947.1 117,945 116,939 115,938.5" fill="#0000ff" stroke="#0000ff" stroke-width="0.8" stroke-linejoin="round"/>
<polyline points="72.3,937.79 74.3,937.96 76.3,937.99 78.3,937.88 80.3,937.67 82.3,937.47 84.3,937.4 86.3,937.48 88.3,937.68 90.3,937.89 92.3,938 94.3,937.95 96.3,937.78 98.3,937.56 100.3,937.42 102.3,937.42 104.3,937.57 106.3,937.79 108.3,937.96 110.3,937.99 112.3,937.88 113.3,937.78" fill="none" stroke="#0000ff" stroke-width="2.5" stroke-linejoin="round" stroke-linecap="butt"/>
<polyline points="135.2,936 136.6,940.7 138.4,937.8 140,937 142,938.8 145.4,938.4 148,939.3 151,937.5 154,938.2 158,937.4 160,937.99 162,937.7 164,937.41 166,937.37 168,937.61 170,937.93 172,938.05 174,937.87 176,937.54 177.7,937.36" fill="none" stroke="#0000ff" stroke-width="2.5" stroke-linejoin="round" stroke-linecap="butt"/>
<rect x="85.3" y="801.9" width="100.7" height="17.5" fill="#fff" stroke="#555" stroke-width="0.9"/>
<text x="86.87" y="815.7" font-size="14">0.5% EPS-Single</text>
<rect x="49.6" y="797.2" width="145.9" height="196.8" fill="none" stroke="#0a0a0a" stroke-width="1.5"/>
<line x1="49.6" y1="979.84" x2="53.4" y2="979.84" stroke="#111" stroke-width="1.4"/>
<line x1="49.6" y1="965.76" x2="57.2" y2="965.76" stroke="#111" stroke-width="1.4"/>
<line x1="49.6" y1="951.68" x2="53.4" y2="951.68" stroke="#111" stroke-width="1.4"/>
<line x1="49.6" y1="937.6" x2="57.2" y2="937.6" stroke="#111" stroke-width="1.4"/>
<line x1="49.6" y1="923.52" x2="53.4" y2="923.52" stroke="#111" stroke-width="1.4"/>
<line x1="49.6" y1="909.44" x2="57.2" y2="909.44" stroke="#111" stroke-width="1.4"/>
<line x1="49.6" y1="895.36" x2="53.4" y2="895.36" stroke="#111" stroke-width="1.4"/>
<line x1="49.6" y1="881.28" x2="57.2" y2="881.28" stroke="#111" stroke-width="1.4"/>
<line x1="49.6" y1="867.2" x2="53.4" y2="867.2" stroke="#111" stroke-width="1.4"/>
<line x1="49.6" y1="853.12" x2="57.2" y2="853.12" stroke="#111" stroke-width="1.4"/>
<line x1="49.6" y1="839.04" x2="53.4" y2="839.04" stroke="#111" stroke-width="1.4"/>
<line x1="49.6" y1="824.96" x2="57.2" y2="824.96" stroke="#111" stroke-width="1.4"/>
<line x1="49.6" y1="810.88" x2="53.4" y2="810.88" stroke="#111" stroke-width="1.4"/>
<line x1="70.2" y1="994" x2="70.2" y2="988" stroke="#111" stroke-width="1.3"/>
<line x1="111.8" y1="994" x2="111.8" y2="990.8" stroke="#111" stroke-width="1.3"/>
<line x1="153.4" y1="994" x2="153.4" y2="988" stroke="#111" stroke-width="1.3"/>
<text transform="translate(26.25,999.32) scale(1.1200,1)" font-size="16">-4</text>
<text transform="translate(26.96,971.16) scale(1.1200,1)" font-size="16">-2</text>
<text transform="translate(32.62,943) scale(1.1200,1)" font-size="16">0</text>
<text transform="translate(32.93,914.84) scale(1.1200,1)" font-size="16">2</text>
<text transform="translate(32.22,886.68) scale(1.1200,1)" font-size="16">4</text>
<text transform="translate(32.47,858.52) scale(1.1200,1)" font-size="16">6</text>
<text transform="translate(32.62,830.36) scale(1.1200,1)" font-size="16">8</text>
<text transform="translate(23.66,802.2) scale(1.1200,1)" font-size="16">10</text>
<polygon points="280.6,937.5 280.8,909 282,907.9 283.5,909 283.6,919 284.8,919.5 285.6,944.4 287.7,945 289.7,940.9 290.6,933.3 292.6,930.9 293,933 291.5,936.5 291.2,945.5 288.6,953.1 286.5,955 285.6,957.5 284.5,957 284,950 282.4,948.5 281.5,945" fill="#0000ff" stroke="#0000ff" stroke-width="0.8" stroke-linejoin="round"/>
<polyline points="239.6,937.69 241.6,937.86 243.6,937.89 245.6,937.78 247.6,937.57 249.6,937.37 251.6,937.3 253.6,937.38 255.6,937.58 257.6,937.79 259.6,937.9 261.6,937.85 263.6,937.68 265.6,937.46 267.6,937.32 269.6,937.32 271.6,937.47 273.6,937.69 275.6,937.86 277.6,937.89 279.6,937.78 280.6,937.68" fill="none" stroke="#0000ff" stroke-width="2.5" stroke-linejoin="round" stroke-linecap="butt"/>
<polyline points="292.6,930.9 295.9,928.6 297.9,931.8 300.5,937.4 303.2,940.6 306.4,938.5 310.5,936.5 314.2,937.4 318,937.6 320,937.89 322,937.6 324,937.31 326,937.27 328,937.51 330,937.83 332,937.95 334,937.77 336,937.44 338,937.25 340,937.37 342,937.68 344,937.93 344.8,937.95" fill="none" stroke="#0000ff" stroke-width="2.5" stroke-linejoin="round" stroke-linecap="butt"/>
<rect x="247" y="802.3" width="105.6" height="17.1" fill="#fff" stroke="#555" stroke-width="0.9"/>
<text x="248.57" y="815.2" font-size="14">0.5% EPS-Double</text>
<rect x="212.3" y="797.2" width="146.1" height="196.8" fill="none" stroke="#0a0a0a" stroke-width="1.5"/>
<line x1="212.3" y1="979.84" x2="216.1" y2="979.84" stroke="#111" stroke-width="1.4"/>
<line x1="212.3" y1="965.76" x2="219.9" y2="965.76" stroke="#111" stroke-width="1.4"/>
<line x1="212.3" y1="951.68" x2="216.1" y2="951.68" stroke="#111" stroke-width="1.4"/>
<line x1="212.3" y1="937.6" x2="219.9" y2="937.6" stroke="#111" stroke-width="1.4"/>
<line x1="212.3" y1="923.52" x2="216.1" y2="923.52" stroke="#111" stroke-width="1.4"/>
<line x1="212.3" y1="909.44" x2="219.9" y2="909.44" stroke="#111" stroke-width="1.4"/>
<line x1="212.3" y1="895.36" x2="216.1" y2="895.36" stroke="#111" stroke-width="1.4"/>
<line x1="212.3" y1="881.28" x2="219.9" y2="881.28" stroke="#111" stroke-width="1.4"/>
<line x1="212.3" y1="867.2" x2="216.1" y2="867.2" stroke="#111" stroke-width="1.4"/>
<line x1="212.3" y1="853.12" x2="219.9" y2="853.12" stroke="#111" stroke-width="1.4"/>
<line x1="212.3" y1="839.04" x2="216.1" y2="839.04" stroke="#111" stroke-width="1.4"/>
<line x1="212.3" y1="824.96" x2="219.9" y2="824.96" stroke="#111" stroke-width="1.4"/>
<line x1="212.3" y1="810.88" x2="216.1" y2="810.88" stroke="#111" stroke-width="1.4"/>
<line x1="254" y1="994" x2="254" y2="990.8" stroke="#111" stroke-width="1.3"/>
<line x1="295.7" y1="994" x2="295.7" y2="988" stroke="#111" stroke-width="1.3"/>
<line x1="337.4" y1="994" x2="337.4" y2="990.8" stroke="#111" stroke-width="1.3"/>
<polygon points="439.8,937.5 440,926 441.3,925.3 442.7,926 443.4,934.4 444.1,935.5 445.2,939.2 447.4,943.9 448.1,936.2 449.6,935.5 450.5,938 452.5,930.4 454.3,927.9 455.4,929.7 457.6,931.9 460.5,935.5 462,938.5 459,939.2 456,938.8 453.5,938.5 452.2,942.8 450,945 449.2,951.9 447.5,951.5 446,949.8 444.5,942.5 443,940 441.5,937" fill="#8000ff" stroke="#8000ff" stroke-width="0.8" stroke-linejoin="round"/>
<polyline points="398.4,937.69 400.4,937.86 402.4,937.89 404.4,937.78 406.4,937.57 408.4,937.37 410.4,937.3 412.4,937.38 414.4,937.58 416.4,937.79 418.4,937.9 420.4,937.85 422.4,937.68 424.4,937.46 426.4,937.32 428.4,937.32 430.4,937.47 432.4,937.69 434.4,937.86 436.4,937.89 438.4,937.78 439.8,937.63" fill="none" stroke="#8000ff" stroke-width="2.5" stroke-linejoin="round" stroke-linecap="butt"/>
<polyline points="462,938.5 464.9,937.3 467.5,938.8 470,936.2 473,935.5 475.9,936.6 478.8,938.8 481.5,937.5 485,937.3 487,937.89 489,937.6 491,937.31 493,937.27 495,937.51 497,937.83 499,937.95 501,937.77 503,937.44 503.5,937.37" fill="none" stroke="#8000ff" stroke-width="2.5" stroke-linejoin="round" stroke-linecap="butt"/>
<rect x="408.2" y="801.3" width="107.7" height="17.5" fill="#fff" stroke="#555" stroke-width="0.9"/>
<text transform="translate(409.86,814.6) scale(1.0038,1)" font-size="14">0.75% EPS-Single</text>
<rect x="375.4" y="797.2" width="145.9" height="196.8" fill="none" stroke="#0a0a0a" stroke-width="1.5"/>
<line x1="375.4" y1="979.84" x2="379.2" y2="979.84" stroke="#111" stroke-width="1.4"/>
<line x1="375.4" y1="965.76" x2="383" y2="965.76" stroke="#111" stroke-width="1.4"/>
<line x1="375.4" y1="951.68" x2="379.2" y2="951.68" stroke="#111" stroke-width="1.4"/>
<line x1="375.4" y1="937.6" x2="383" y2="937.6" stroke="#111" stroke-width="1.4"/>
<line x1="375.4" y1="923.52" x2="379.2" y2="923.52" stroke="#111" stroke-width="1.4"/>
<line x1="375.4" y1="909.44" x2="383" y2="909.44" stroke="#111" stroke-width="1.4"/>
<line x1="375.4" y1="895.36" x2="379.2" y2="895.36" stroke="#111" stroke-width="1.4"/>
<line x1="375.4" y1="881.28" x2="383" y2="881.28" stroke="#111" stroke-width="1.4"/>
<line x1="375.4" y1="867.2" x2="379.2" y2="867.2" stroke="#111" stroke-width="1.4"/>
<line x1="375.4" y1="853.12" x2="383" y2="853.12" stroke="#111" stroke-width="1.4"/>
<line x1="375.4" y1="839.04" x2="379.2" y2="839.04" stroke="#111" stroke-width="1.4"/>
<line x1="375.4" y1="824.96" x2="383" y2="824.96" stroke="#111" stroke-width="1.4"/>
<line x1="375.4" y1="810.88" x2="379.2" y2="810.88" stroke="#111" stroke-width="1.4"/>
<line x1="396" y1="994" x2="396" y2="988" stroke="#111" stroke-width="1.3"/>
<line x1="437.6" y1="994" x2="437.6" y2="990.8" stroke="#111" stroke-width="1.3"/>
<line x1="479.2" y1="994" x2="479.2" y2="988" stroke="#111" stroke-width="1.3"/>
<polygon points="606.3,937.8 606.4,911 607.7,910.5 609,911 609.1,923 610.9,923.5 611,925.8 613,926 613.2,936.4 614.2,936.4 616.1,934.6 617.9,934.6 619.7,932.4 620.8,931.6 623.4,931.3 625.2,933.1 627,936.4 626,937 622.6,936.5 621.2,937.5 620.4,940 618.2,940.8 616.8,941.5 616.4,945.9 615,949.9 613.5,949.5 611.5,945.5 610.9,949.2 609.5,949 607.7,945.9 606.8,940" fill="#8000ff" stroke="#8000ff" stroke-width="0.8" stroke-linejoin="round"/>
<polyline points="565.5,937.89 567.5,938.06 569.5,938.09 571.5,937.98 573.5,937.77 575.5,937.57 577.5,937.5 579.5,937.58 581.5,937.78 583.5,937.99 585.5,938.1 587.5,938.05 589.5,937.88 591.5,937.66 593.5,937.52 595.5,937.52 597.5,937.67 599.5,937.89 601.5,938.06 603.5,938.09 605.5,937.98 606.3,937.9" fill="none" stroke="#8000ff" stroke-width="2.5" stroke-linejoin="round" stroke-linecap="butt"/>
<polyline points="627,936.4 628.8,938.9 629.9,939.9 632.1,937.8 635.8,937.5 636.9,934.6 638,935.7 640,936.5 643.1,936.8 645.3,938.6 648,937.5 652,937.8 654,938.09 656,937.8 658,937.51 660,937.47 662,937.71 664,938.03 666,938.15 668,937.97 670,937.64 671,937.51" fill="none" stroke="#8000ff" stroke-width="2.5" stroke-linejoin="round" stroke-linecap="butt"/>
<rect x="566.8" y="799.5" width="112.7" height="17.9" fill="#fff" stroke="#555" stroke-width="0.9"/>
<text transform="translate(568.27,813.1) scale(0.9987,1)" font-size="14">0.75% EPS-Double</text>
<rect x="538.1" y="797.2" width="145.8" height="196.8" fill="none" stroke="#0a0a0a" stroke-width="1.5"/>
<line x1="538.1" y1="979.84" x2="541.9" y2="979.84" stroke="#111" stroke-width="1.4"/>
<line x1="538.1" y1="965.76" x2="545.7" y2="965.76" stroke="#111" stroke-width="1.4"/>
<line x1="538.1" y1="951.68" x2="541.9" y2="951.68" stroke="#111" stroke-width="1.4"/>
<line x1="538.1" y1="937.6" x2="545.7" y2="937.6" stroke="#111" stroke-width="1.4"/>
<line x1="538.1" y1="923.52" x2="541.9" y2="923.52" stroke="#111" stroke-width="1.4"/>
<line x1="538.1" y1="909.44" x2="545.7" y2="909.44" stroke="#111" stroke-width="1.4"/>
<line x1="538.1" y1="895.36" x2="541.9" y2="895.36" stroke="#111" stroke-width="1.4"/>
<line x1="538.1" y1="881.28" x2="545.7" y2="881.28" stroke="#111" stroke-width="1.4"/>
<line x1="538.1" y1="867.2" x2="541.9" y2="867.2" stroke="#111" stroke-width="1.4"/>
<line x1="538.1" y1="853.12" x2="545.7" y2="853.12" stroke="#111" stroke-width="1.4"/>
<line x1="538.1" y1="839.04" x2="541.9" y2="839.04" stroke="#111" stroke-width="1.4"/>
<line x1="538.1" y1="824.96" x2="545.7" y2="824.96" stroke="#111" stroke-width="1.4"/>
<line x1="538.1" y1="810.88" x2="541.9" y2="810.88" stroke="#111" stroke-width="1.4"/>
<line x1="579.8" y1="994" x2="579.8" y2="990.8" stroke="#111" stroke-width="1.3"/>
<line x1="621.5" y1="994" x2="621.5" y2="988" stroke="#111" stroke-width="1.3"/>
<line x1="663.2" y1="994" x2="663.2" y2="990.8" stroke="#111" stroke-width="1.3"/>
<text transform="translate(59.21,1013.4) scale(1.0600,1)" font-size="16">0.5</text>
<text transform="translate(142.78,1013.4) scale(1.0600,1)" font-size="16">0.6</text>
<text transform="translate(201.61,1013.4) scale(1.0600,1)" font-size="16">0.3</text>
<text transform="translate(284.71,1013.4) scale(1.0600,1)" font-size="16">0.4</text>
<text transform="translate(385.31,1013.4) scale(1.0600,1)" font-size="16">0.5</text>
<text transform="translate(468.73,1013.4) scale(1.0600,1)" font-size="16">0.6</text>
<text transform="translate(527.41,1013.4) scale(1.0600,1)" font-size="16">0.3</text>
<text transform="translate(610.71,1013.4) scale(1.0600,1)" font-size="16">0.4</text>
<text transform="translate(13.1,829.46) rotate(-90) scale(1.0168,1)" font-size="16">Acceleration(g)</text>
<text transform="translate(336.75,1033) scale(1.1334,1)" font-size="17">Time(s)</text>
<text transform="translate(332.13,1062.6) scale(1.1954,1)" font-size="18.5">(e)</text>
</svg></body></html>
